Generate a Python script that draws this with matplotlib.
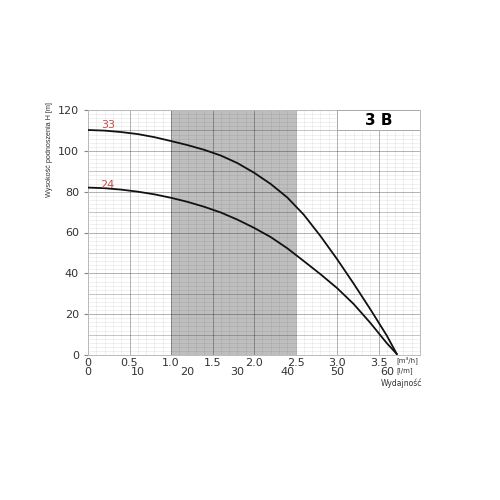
import numpy as np
import matplotlib.pyplot as plt
from matplotlib.ticker import MultipleLocator

# flow [m3/h] and head [m]
q = [0.0, 0.2, 0.4, 0.6, 0.8, 1.0, 1.2, 1.4, 1.6, 1.8, 2.0, 2.2, 2.4, 2.6, 2.8, 3.0, 3.2, 3.4, 3.6, 3.72]
h33 = [110.2, 109.9, 109.2, 108.2, 106.7, 104.8, 102.8, 100.5, 97.7, 94.0, 89.3, 83.8, 77.2, 68.7,
       58.3, 47.0, 35.0, 22.5, 9.5, 0.5]
h24 = [82.0, 81.7, 81.0, 80.0, 78.7, 77.0, 75.0, 72.6, 69.8, 66.3, 62.3, 57.8, 52.3, 46.0,
       39.6, 32.8, 25.0, 15.8, 5.8, 0.5]
curve_names = ['33', '24']
label_pos = [(0.24, 112.7), (0.23, 83.5)]
band = (1.0, 2.5)
x_ticks = [0, 0.5, 1.0, 1.5, 2.0, 2.5, 3.0, 3.5]
x_labels = ['0', '0.5', '1.0', '1.5', '2.0', '2.5', '3.0', '3.5']
lpm_ticks = [0, 10, 20, 30, 40, 50, 60]

fig = plt.figure(figsize=(5, 5), dpi=100)
ax = fig.add_axes([0.176, 0.29, 0.664, 0.49])

ax.set_xlim(0, 4.0)
ax.set_ylim(0, 120)
ax.axvspan(band[0], band[1], color='#bebebe', zorder=0, lw=0)

ax.xaxis.set_minor_locator(MultipleLocator(0.1))
ax.yaxis.set_minor_locator(MultipleLocator(2))
ax.grid(which='minor', color='black', alpha=0.08, lw=0.5, zorder=1)
ax.grid(which='major', color='black', alpha=0.3, lw=0.7, zorder=1)
for yy in range(10, 120, 20):
    ax.axhline(yy, color='black', alpha=0.18, lw=0.7, zorder=1)
ax.set_axisbelow(True)
for s in ax.spines.values():
    s.set_color('#bbbbbb')
    s.set_linewidth(0.7)

ax.plot(q, h33, color='#111111', lw=1.3, zorder=3)
ax.plot(q, h24, color='#111111', lw=1.3, zorder=3)
for name, (lx, ly) in zip(curve_names, label_pos):
    ax.text(lx, ly, name, color='#c0504d', fontsize=8, ha='center', va='center')

ax.set_yticks(range(0, 121, 20))
ax.set_xticks(x_ticks)
ax.set_xticklabels(x_labels)
ax.tick_params(axis='both', which='major', labelsize=8, length=3, color='#888888', labelcolor='#333333')
ax.tick_params(axis='x', which='major', length=0, pad=2)
ax.tick_params(which='minor', length=0)
ax.set_ylabel('Wysokość podnoszenia H [m]', fontsize=5.2, color='#333333', family='Liberation Sans')
ax.yaxis.set_label_coords(-0.105, 0.84)

# second scale in l/min
for v in lpm_ticks:
    ax.text(v * 0.06, -5.8, str(v), ha='center', va='top', fontsize=8, color='#333333')
ax.text(3.72, -0.8, '[m³/h]', fontsize=5, va='top', ha='left', color='#333333')
ax.text(3.72, -5.8, '[l/m]', fontsize=5, va='top', ha='left', color='#333333')
ax.text(4.03, -11.5, 'Wydajność', fontsize=5.5, va='top', ha='right', color='#333333')

# model box
ax.add_patch(plt.Rectangle((3.0, 110), 1.0, 10, facecolor='white', edgecolor='#aaaaaa', lw=0.7, zorder=4))
ax.text(3.5, 115, '3 B', fontsize=11, fontweight='bold', ha='center', va='center', zorder=5)

fig.savefig('out.png', dpi=100)
